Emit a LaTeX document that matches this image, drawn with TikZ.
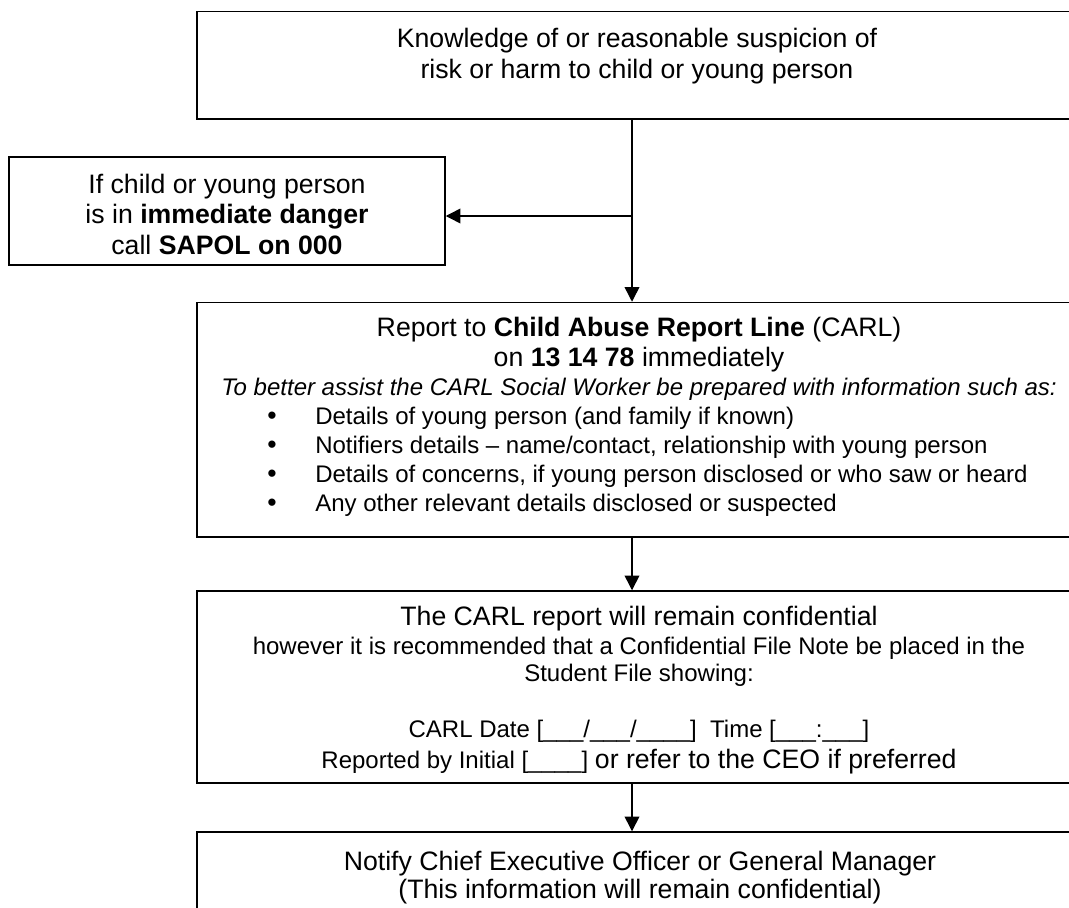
\documentclass[tikz,border=0pt]{standalone}
\usepackage{fontspec}
\setmainfont{Liberation Sans}
\usetikzlibrary{arrows.meta}
\begin{document}
\begin{tikzpicture}[x=0.75pt,y=-0.75pt,
  box/.style={draw, line width=1.1pt, rectangle, inner sep=0pt},
  arr/.style={line width=1.1pt, -{Triangle[length=11pt,width=11pt]}},
  big/.style={anchor=base, inner sep=0pt, font=\fontsize{20pt}{24pt}\selectfont},
  small/.style={anchor=base, inner sep=0pt, font=\fontsize{18pt}{22pt}\selectfont},
  bl/.style={anchor=base west, inner sep=0pt, font=\fontsize{18pt}{22pt}\selectfont},
  dot/.style={anchor=base, inner sep=0pt, font=\fontsize{20pt}{22pt}\selectfont}]
\clip (0,0) rectangle (1069,907);
\fill[white] (0,0) rectangle (1069,907);
% boxes
\node[box, minimum width=663pt, minimum height=80.6pt] (top) at (639,65.25) {};
\node[box, minimum width=327pt, minimum height=81pt] (left) at (227,211) {};
\node[box, minimum width=663pt, minimum height=175.9pt] (rep) at (639,419.75) {};
\node[box, minimum width=663pt, minimum height=144pt] (carl) at (639,687) {};
\node[box, minimum width=663pt, minimum height=96pt] (ceo) at (639,896) {};
% top text
\node[big] (t1) at (637,47) {Knowledge of or reasonable suspicion of};
\node[big] (t2) at (637,78) {risk or harm to child or young person};
% left text
\node[big] (l1) at (227,193.5) {If child or young person};
\node[big] (l2) at (227,223.5) {is in \textbf{immediate danger}};
\node[big] (l3) at (227,254) {call \textbf{SAPOL on 000}};
% report text
\node[big] (r1) at (639,336) {Report to \textbf{Child Abuse Report Line} (CARL)};
\node[big] (r2) at (639,366) {on \textbf{13 14 78} immediately};
\node[small] (r3) at (639,395) {\itshape To better assist the CARL Social Worker be prepared with information such as:};
\node[dot] (d1) at (272,424) {•};
\node[dot] (d2) at (272,453) {•};
\node[dot] (d3) at (272,482) {•};
\node[dot] (d4) at (272,511) {•};
\node[bl] (b1) at (315,424) {Details of young person (and family if known)};
\node[bl] (b2) at (315,453) {Notifiers details – name/contact, relationship with young person};
\node[bl] (b3) at (315,482) {Details of concerns, if young person disclosed or who saw or heard};
\node[bl] (b4) at (315,511) {Any other relevant details disclosed or suspected};
% carl text
\node[big] (c1) at (639,625) {The CARL report will remain confidential};
\node[small] (c2) at (639,654) {however it is recommended that a Confidential File Note be placed in the};
\node[small] (c3) at (639,681) {Student File showing:};
\node[small] (c4) at (639,737) {CARL Date [\_\_\_/\_\_\_/\_\_\_\_]\ \ Time [\_\_\_:\_\_\_]};
\node[small] (c5) at (639,768) {Reported by Initial [\_\_\_\_] {\fontsize{20pt}{24pt}\selectfont or refer to the CEO if preferred}};
% notify text
\node[big] (n1) at (640,870) {Notify Chief Executive Officer or General Manager};
\node[big] (n2) at (640,898) {(This information will remain confidential)};
% connectors
\coordinate (br) at (632,216);
\draw[arr] (top.south -| br) -- (rep.north -| br);
\draw[arr] (br) -- (br -| left.east);
\draw[arr] (rep.south -| br) -- (carl.north -| br);
\draw[arr] (carl.south -| br) -- (ceo.north -| br);
\end{tikzpicture}
\end{document}
